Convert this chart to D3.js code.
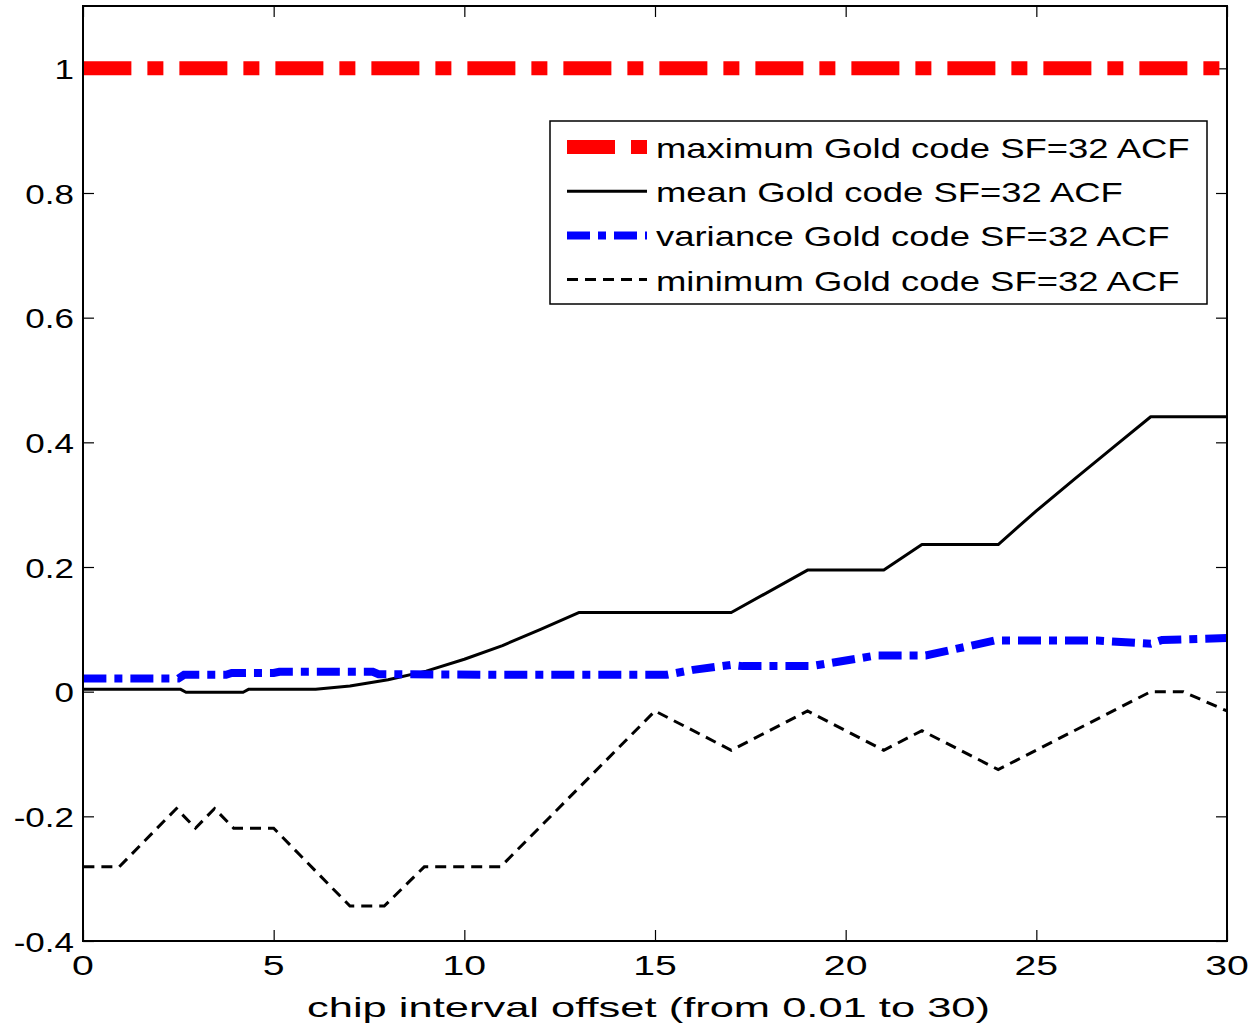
<!DOCTYPE html>
<html>
<head>
<meta charset="utf-8">
<script src="https://cdn.jsdelivr.net/npm/d3@7"></script>
<style>
  body { margin: 0; background: #fff; }
  svg { display: block; }
  text { font-family: "Liberation Sans", Arial, sans-serif; fill: #000; }
</style>
</head>
<body>
<svg id="chart" width="1251" height="1025"></svg>
<script>
// ACF statistics of Gold codes (SF=32) versus chip interval offset
const maxX  = [0.01, 30];
const maxY  = [1, 1];

const meanX = [0.01, 2.55, 2.7, 4.2, 4.35, 6.1, 7, 8, 9, 10, 11, 12, 13, 17, 19, 21, 22, 24, 25, 26, 27, 28, 30];
const meanY = [0.004, 0.004, -0.001, -0.001, 0.004, 0.004, 0.009, 0.019, 0.033, 0.052, 0.074, 0.1, 0.127, 0.127, 0.195, 0.195, 0.236, 0.236, 0.29, 0.341, 0.391, 0.441, 0.441];

const varX  = [0.01, 2.5, 2.65, 3.75, 3.9, 5.0, 5.15, 7.6, 7.75, 11, 15.3, 16, 17, 17.3, 19.1, 20.8, 22.1, 23.9, 26.6, 28.0, 28.3, 30];
const varY  = [0.021, 0.021, 0.027, 0.027, 0.03, 0.03, 0.032, 0.032, 0.028, 0.027, 0.027, 0.035, 0.043, 0.041, 0.041, 0.058, 0.058, 0.082, 0.082, 0.077, 0.083, 0.086];

const minX  = [0.01, 0.95, 2.45, 2.95, 3.45, 3.95, 5.0, 7.0, 7.9, 8.95, 10.95, 15.0, 17.0, 19.0, 21.0, 22.0, 24.0, 28.0, 28.85, 30];
const minY  = [-0.281, -0.281, -0.1875, -0.219, -0.1875, -0.219, -0.219, -0.344, -0.344, -0.281, -0.281, -0.031, -0.094, -0.031, -0.094, -0.0625, -0.125, 0, 0, -0.031];

const xTicks = [0, 5, 10, 15, 20, 25, 30];
const xTickLabels = ["0", "5", "10", "15", "20", "25", "30"];
const yTicks = [-0.4, -0.2, 0, 0.2, 0.4, 0.6, 0.8, 1];
const yTickLabels = ["-0.4", "-0.2", "0", "0.2", "0.4", "0.6", "0.8", "1"];

const seriesNames = [
  "maximum Gold code SF=32 ACF",
  "mean Gold code SF=32 ACF",
  "variance Gold code SF=32 ACF",
  "minimum Gold code SF=32 ACF"
];
const xLabel = "chip interval offset (from 0.01 to 30)";

// ---- layout ----
const L = 83, R = 1227, T = 6, B = 941;
const svg = d3.select("#chart");
const x = d3.scaleLinear().domain([0, 30]).range([L, R]);
const y = d3.scaleLinear().domain([-0.4, 1.1]).range([B, T]);

const styles = [
  { color: "#ff0000", width: 14, dash: "48,16,16,16" },
  { color: "#000000", width: 3,  dash: null },
  { color: "#0000ff", width: 8,  dash: "23,8,8,8" },
  { color: "#000000", width: 3,  dash: "11,7" }
];

const series = [
  d3.zip(maxX, maxY),
  d3.zip(meanX, meanY),
  d3.zip(varX, varY),
  d3.zip(minX, minY)
];

svg.append("defs").append("clipPath").attr("id", "plotClip")
  .append("rect").attr("x", L).attr("y", T).attr("width", R - L).attr("height", B - T);

// inward ticks on all four sides
const tickLen = 11;
function styleAxis(g) {
  g.select(".domain").remove();
  g.selectAll(".tick line").attr("stroke", "#000").attr("stroke-width", 1.2);
  g.selectAll(".tick text").remove();
}
svg.append("g").attr("transform", `translate(0,${B})`)
  .call(d3.axisBottom(x).tickValues(xTicks).tickSize(-tickLen)).call(styleAxis);
svg.append("g").attr("transform", `translate(0,${T})`)
  .call(d3.axisTop(x).tickValues(xTicks).tickSize(-tickLen)).call(styleAxis);
svg.append("g").attr("transform", `translate(${L},0)`)
  .call(d3.axisLeft(y).tickValues(yTicks).tickSize(-tickLen)).call(styleAxis);
svg.append("g").attr("transform", `translate(${R},0)`)
  .call(d3.axisRight(y).tickValues(yTicks).tickSize(-tickLen)).call(styleAxis);

// data lines
const line = d3.line().x(d => x(d[0])).y(d => y(d[1]));
const plot = svg.append("g").attr("clip-path", "url(#plotClip)");
series.forEach((pts, i) => {
  const s = styles[i];
  plot.append("path")
    .datum(pts)
    .attr("d", line)
    .attr("fill", "none")
    .attr("stroke", s.color)
    .attr("stroke-width", s.width)
    .attr("stroke-linecap", "butt")
    .attr("stroke-linejoin", s.dash ? "miter" : "round")
    .attr("stroke-dasharray", s.dash);
});

// axes box
svg.append("rect")
  .attr("x", L).attr("y", T).attr("width", R - L).attr("height", B - T)
  .attr("fill", "none").attr("stroke", "#000").attr("stroke-width", 2);

// tick labels (horizontally stretched text)
svg.append("g").selectAll("text").data(yTicks).join("text")
  .attr("transform", d => `translate(74,${y(d) + 10.5}) scale(1.25,1)`)
  .attr("text-anchor", "end")
  .attr("font-size", 28)
  .text((d, i) => yTickLabels[i]);

svg.append("g").selectAll("text").data(xTicks).join("text")
  .attr("transform", d => `translate(${x(d)},975) scale(1.4,1)`)
  .attr("text-anchor", "middle")
  .attr("font-size", 28)
  .text((d, i) => xTickLabels[i]);

svg.append("text")
  .attr("x", 307).attr("y", 1017)
  .attr("font-size", 28)
  .attr("textLength", 683)
  .attr("lengthAdjust", "spacingAndGlyphs")
  .text(xLabel);

// legend
const lg = svg.append("g");
lg.append("rect")
  .attr("x", 550).attr("y", 121).attr("width", 657).attr("height", 183)
  .attr("fill", "#fff").attr("stroke", "#000").attr("stroke-width", 1.5);
seriesNames.forEach((name, i) => {
  const base = 158 + i * 44.2;
  const s = styles[i];
  lg.append("line")
    .attr("x1", 567).attr("x2", 647)
    .attr("y1", base - 11).attr("y2", base - 11)
    .attr("stroke", s.color)
    .attr("stroke-width", s.width)
    .attr("stroke-dasharray", s.dash);
  lg.append("text")
    .attr("transform", `translate(656,${base}) scale(1.35,1)`)
    .attr("font-size", 27)
    .text(name);
});
</script>
</body>
</html>
